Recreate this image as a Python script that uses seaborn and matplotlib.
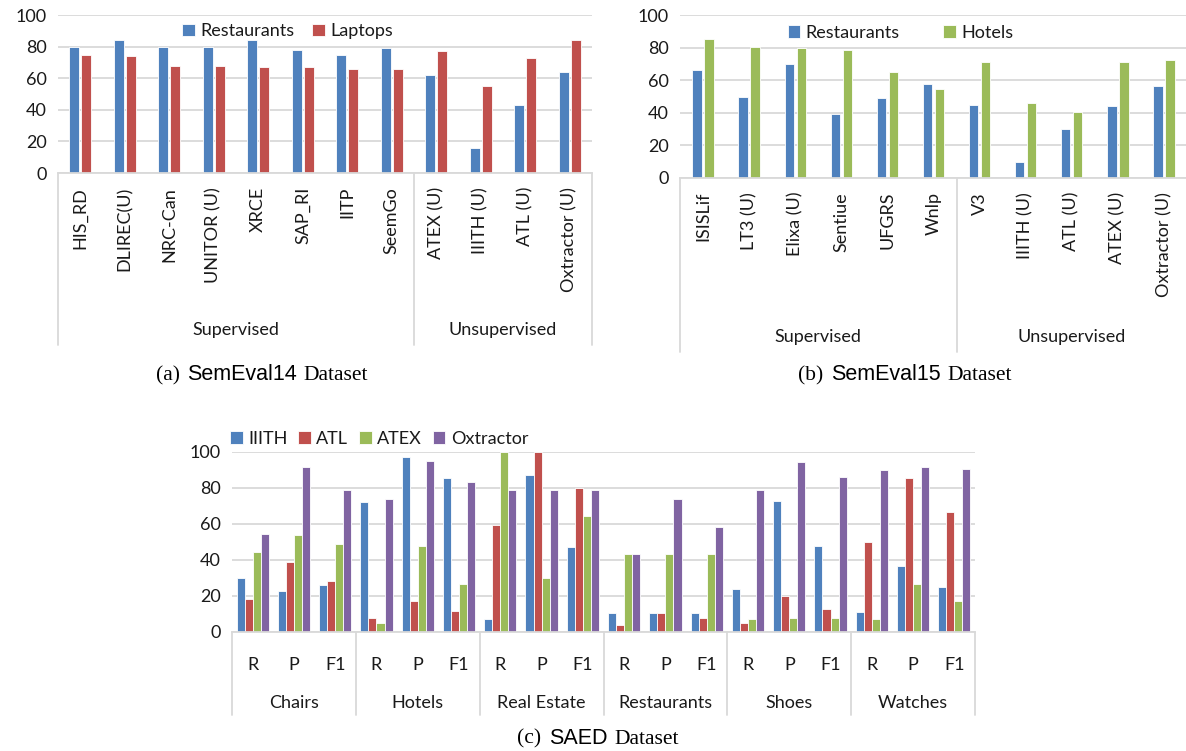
import numpy as np
import pandas as pd
import matplotlib
matplotlib.use("Agg")
import matplotlib.pyplot as plt
import seaborn as sns
from matplotlib.offsetbox import TextArea, HPacker, AnchoredOffsetbox

sns.set_theme(style="white")
plt.rcParams["font.family"] = ["Lato", "DejaVu Sans"]

# (a) SemEval14
a_models = ["HIS_RD", "DLIREC(U)", "NRC-Can", "UNITOR (U)", "XRCE", "SAP_RI", "IITP",
            "SeemGo", "ATEX (U)", "IIITH (U)", "ATL (U)", "Oxtractor (U)"]
a_restaurants = [80, 84, 80, 80, 84, 78, 75, 79, 62, 16, 43, 64]
a_laptops = [75, 74, 68, 68, 67, 67, 66, 66, 77, 55, 73, 84]
a_groups = ["Supervised", "Unsupervised"]
a_group_sizes = [8, 4]

# (b) SemEval15
b_models = ["ISISLif", "LT3 (U)", "Elixa (U)", "Sentiue", "UFGRS", "Wnlp", "V3",
            "IIITH (U)", "ATL (U)", "ATEX (U)", "Oxtractor (U)"]
b_restaurants = [66, 50, 70, 39.5, 49, 57.5, 45, 10, 30, 44, 56.5]
b_hotels = [85, 80.5, 79.5, 78.5, 65, 54.5, 71, 46, 40.5, 71, 72.5]
b_groups = ["Supervised", "Unsupervised"]
b_group_sizes = [6, 5]

# (c) SAED
c_domains = ["Chairs", "Hotels", "Real Estate", "Restaurants", "Shoes", "Watches"]
c_metrics = ["R", "P", "F1"]
c_iiith = [30, 23, 26, 72, 97, 85.5, 7, 87, 47, 10.5, 10.5, 10.5, 24, 73, 48, 11, 36.5, 25]
c_atl = [18.5, 39, 28.5, 8, 17, 11.5, 59.5, 100, 80, 4, 10.5, 8, 5, 20, 13, 50, 85.5, 66.5]
c_atex = [44.5, 54, 49, 5, 48, 26.5, 100, 30, 64.5, 43.5, 43.5, 43.5, 7, 8, 8, 7, 26.5, 17]
c_oxtractor = [54.5, 91.5, 79, 74, 95, 83.5, 79, 79, 79, 43.5, 74, 58.5, 79, 94.5, 86, 90, 91.5, 90.5]

BLUE, RED, GREEN, PURPLE = "#4F81BD", "#C0504D", "#9BBB59", "#8064A2"
GRID = "#D9D9D9"
TXT = "#1a1a1a"
W, H = 1186, 751

fig = plt.figure(figsize=(W / 100, H / 100), dpi=100)


def axes_px(left, top, right, bottom):
    return fig.add_axes([left / W, 1 - bottom / H, (right - left) / W, (bottom - top) / H])


def ypx(ax, y):
    bb = ax.get_position()
    return ((1 - y / H) - bb.y0) / bb.height


def style_axes(ax):
    ax.set_ylim(0, 100)
    ax.set_yticks(range(0, 101, 20))
    ax.yaxis.grid(True, color=GRID, lw=1.3)
    ax.set_axisbelow(True)
    for s in ["left", "right", "top"]:
        ax.spines[s].set_visible(False)
    ax.spines["bottom"].set_color(GRID)
    ax.spines["bottom"].set_linewidth(1.3)
    ax.tick_params(axis="y", length=0, labelsize=13, labelcolor=TXT, pad=8)
    ax.tick_params(axis="x", length=0, labelcolor=TXT)
    ax.set_xlabel("")
    ax.set_ylabel("")


def group_axis(ax, sizes, names, line_bottom, label_y):
    tr = ax.get_xaxis_transform()
    edges = np.concatenate([[0], np.cumsum(sizes)]) - 0.5
    yb = ypx(ax, line_bottom)
    for e in edges:
        ax.plot([e, e], [0, yb], transform=tr, color=GRID, lw=1.3, clip_on=False)
    yl = ypx(ax, label_y)
    for i, name in enumerate(names):
        ax.text((edges[i] + edges[i + 1]) / 2, yl, name, transform=tr,
                ha="center", va="center", fontsize=13, color=TXT)


def caption(x, y, tag, name):
    serif = dict(family="Liberation Serif", size=15.5, color="black")
    sans = dict(family="Liberation Sans", size=15.5, color="black")
    box = HPacker(children=[TextArea(tag, textprops=serif), TextArea(name, textprops=sans),
                            TextArea("Dataset", textprops=serif)],
                  align="baseline", pad=0, sep=5)
    fig.add_artist(AnchoredOffsetbox(loc="center", child=box, frameon=False, pad=0,
                                     bbox_to_anchor=(x / W, 1 - y / H),
                                     bbox_transform=fig.transFigure))


legend_kw = dict(frameon=False, fontsize=13, handlelength=0.7, handleheight=0.7,
                 handletextpad=0.3, labelcolor=TXT)

# ---- (a)
df_a = pd.DataFrame({"model": a_models * 2,
                     "score": a_restaurants + a_laptops,
                     "series": ["Restaurants"] * len(a_models) + ["Laptops"] * len(a_models)})
ax_a = axes_px(58, 15, 592, 173)
sns.barplot(data=df_a, x="model", y="score", hue="series", palette=[BLUE, RED],
            saturation=1, width=0.56, gap=0.2, edgecolor="white", linewidth=0.6, ax=ax_a)
style_axes(ax_a)
ax_a.set_xlim(-0.5, len(a_models) - 0.5)
ax_a.set_xticks(range(len(a_models)))
ax_a.set_xticklabels(a_models, rotation=90, fontsize=13)
ax_a.tick_params(axis="x", pad=10)
ax_a.legend(loc="upper center", bbox_to_anchor=(0.43, 1.05), ncol=2,
            columnspacing=1.0, **legend_kw)
group_axis(ax_a, a_group_sizes, a_groups, 345, 330)

# ---- (b)
df_b = pd.DataFrame({"model": b_models * 2,
                     "score": b_restaurants + b_hotels,
                     "series": ["Restaurants"] * len(b_models) + ["Hotels"] * len(b_models)})
ax_b = axes_px(680, 15, 1187, 178)
sns.barplot(data=df_b, x="model", y="score", hue="series", palette=[BLUE, GREEN],
            saturation=1, width=0.52, gap=0.22, edgecolor="white", linewidth=0.6, ax=ax_b)
style_axes(ax_b)
ax_b.set_xlim(-0.5, len(b_models) - 0.5)
ax_b.set_xticks(range(len(b_models)))
ax_b.set_xticklabels(b_models, rotation=90, fontsize=13)
ax_b.tick_params(axis="x", pad=10)
ax_b.legend(loc="upper center", bbox_to_anchor=(0.435, 1.04), ncol=2,
            columnspacing=2.4, **legend_kw)
group_axis(ax_b, b_group_sizes, b_groups, 352, 337)

# ---- (c)
c_cats = [f"{d}|{m}" for d in c_domains for m in c_metrics]
n_c = len(c_cats)
df_c = pd.DataFrame({"cat": c_cats * 4,
                     "score": c_iiith + c_atl + c_atex + c_oxtractor,
                     "method": ["IIITH"] * n_c + ["ATL"] * n_c + ["ATEX"] * n_c + ["Oxtractor"] * n_c})
ax_c = axes_px(232, 452, 975, 632)
sns.barplot(data=df_c, x="cat", y="score", hue="method", palette=[BLUE, RED, GREEN, PURPLE],
            saturation=1, width=0.78, edgecolor="white", linewidth=0.6, ax=ax_c)
style_axes(ax_c)
ax_c.set_xlim(-0.5, n_c - 0.5)
ax_c.set_xticks(range(n_c))
ax_c.set_xticklabels(c_metrics * len(c_domains), fontsize=13)
ax_c.tick_params(axis="x", pad=18)
ax_c.legend(loc="lower left", bbox_to_anchor=(-0.015, 0.98), ncol=4,
            columnspacing=0.6, borderaxespad=0.1, **legend_kw)
group_axis(ax_c, [3] * len(c_domains), c_domains, 715, 703)

caption(262, 375, "(a)", "SemEval14")
caption(905, 375, "(b)", "SemEval15")
caption(598, 738, "(c)", "SAED")

fig.savefig("out.png", dpi=100, facecolor="white")
